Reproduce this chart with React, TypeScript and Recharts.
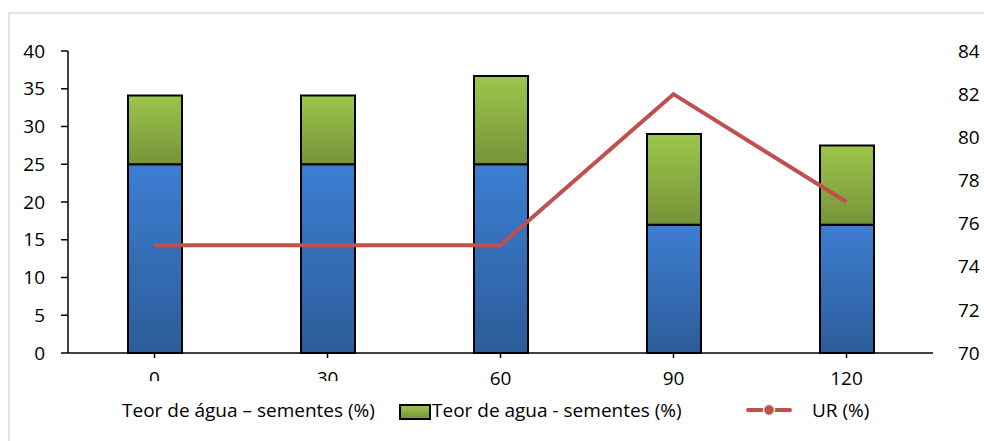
import {
  ComposedChart,
  Bar,
  Line,
  XAxis,
  YAxis,
} from "recharts";

const categories = ["0", "30", "60", "90", "120"];
const teorAguaBase = [25, 25, 25, 17, 17];
const teorAguaTopo = [9.1, 9.1, 11.7, 12, 10.5];
const urValues = [75, 75, 75, 82, 77];

const leftTicks = [0, 5, 10, 15, 20, 25, 30, 35, 40];
const rightTicks = [70, 72, 74, 76, 78, 80, 82, 84];

const data = categories.map((name, i) => ({
  name,
  base: teorAguaBase[i],
  topo: teorAguaTopo[i],
  ur: urValues[i],
}));

const FONT = "'Open Sans', Lato, sans-serif";

function XTick(props: any) {
  const { x, y, payload, index } = props;
  const clipped = index < 2;
  return (
    <g>
      {clipped && (
        <defs>
          <clipPath id={`xclip-${index}`}>
            <rect x={x - 30} y={y - 10} width={60} height={19} />
          </clipPath>
        </defs>
      )}
      <text
        x={x}
        y={y}
        dy="0.71em"
        textAnchor="middle"
        fill="#000"
        fontSize={19}
        fontFamily={FONT}
        clipPath={clipped ? `url(#xclip-${index})` : undefined}
      >
        {payload.value}
      </text>
    </g>
  );
}

function LegendBlock() {
  const text = {
    fontFamily: FONT,
    fontSize: 19,
    lineHeight: "26px",
    color: "#000",
    whiteSpace: "nowrap" as const,
  };
  return (
    <div style={{ position: "absolute", left: 0, top: 397, width: 984, height: 26 }}>
      <span style={{ ...text, position: "absolute", left: 122, top: 0 }}>
        Teor de água – sementes (%)
      </span>
      <span
        style={{
          position: "absolute",
          left: 399,
          top: 7,
          width: 28,
          height: 12,
          border: "2px solid #000",
          background: "linear-gradient(#9BC548, #77933C)",
        }}
      />
      <span style={{ ...text, position: "absolute", left: 432, top: 0 }}>
        Teor de agua - sementes (%)
      </span>
      <svg style={{ position: "absolute", left: 746, top: 1 }} width={46} height={24}>
        <line x1={2} y1={12} x2={44} y2={12} stroke="#C0504D" strokeWidth={4} strokeLinecap="round" />
        <circle cx={23} cy={12} r={5.5} fill="#C0504D" stroke="#EEE8DC" strokeWidth={1.5} />
      </svg>
      <span style={{ ...text, position: "absolute", left: 812, top: 0 }}>UR (%)</span>
    </div>
  );
}

export default function App() {
  return (
    <div
      style={{
        position: "absolute",
        left: 0,
        top: 0,
        width: 984,
        height: 441,
        background: "#fff",
        overflow: "hidden",
      }}
    >
      <div
        style={{
          position: "absolute",
          left: 8,
          top: 12,
          width: 1000,
          height: 460,
          borderTop: "2px solid #D9E3F2",
          borderLeft: "2px solid #D9E3F2",
        }}
      />
      <div style={{ position: "absolute", left: 0, top: 0 }}>
        <ComposedChart
          width={984}
          height={441}
          data={data}
          margin={{ top: 51, right: 0, bottom: 48, left: 8 }}
          barCategoryGap={0}
        >
          <defs>
            <linearGradient id="gradBlue" x1="0" y1="0" x2="0" y2="1">
              <stop offset="0%" stopColor="#3D7ED2" />
              <stop offset="100%" stopColor="#2C5C99" />
            </linearGradient>
            <linearGradient id="gradGreen" x1="0" y1="0" x2="0" y2="1">
              <stop offset="0%" stopColor="#9CC64A" />
              <stop offset="100%" stopColor="#76933A" />
            </linearGradient>
          </defs>
          <XAxis
            dataKey="name"
            height={40}
            tickSize={5}
            tickMargin={14}
            stroke="#000"
            strokeWidth={1.5}
            tick={<XTick />}
            interval={0}
          />
          <YAxis
            yAxisId="left"
            orientation="left"
            width={60}
            domain={[0, 40]}
            ticks={leftTicks}
            tickSize={7}
            tickMargin={16}
            stroke="#000"
            strokeWidth={1.5}
            tick={{ fill: "#000", fontSize: 19, fontFamily: FONT }}
          />
          <YAxis
            yAxisId="right"
            orientation="right"
            width={51}
            domain={[70, 84]}
            ticks={rightTicks}
            axisLine={false}
            tickLine={false}
            tickSize={6}
            tickMargin={19}
            tick={{ fill: "#000", fontSize: 19, fontFamily: FONT, textAnchor: "start" }}
          />
          <Bar
            yAxisId="left"
            dataKey="base"
            stackId="a"
            barSize={54}
            fill="url(#gradBlue)"
            stroke="#000"
            strokeWidth={2}
            isAnimationActive={false}
          />
          <Bar
            yAxisId="left"
            dataKey="topo"
            stackId="a"
            barSize={54}
            fill="url(#gradGreen)"
            stroke="#000"
            strokeWidth={2}
            isAnimationActive={false}
          />
          <Line
            yAxisId="right"
            dataKey="ur"
            type="linear"
            stroke="#C0504D"
            strokeWidth={4}
            dot={false}
            activeDot={false}
            isAnimationActive={false}
          />
        </ComposedChart>
      </div>
      <LegendBlock />
    </div>
  );
}
